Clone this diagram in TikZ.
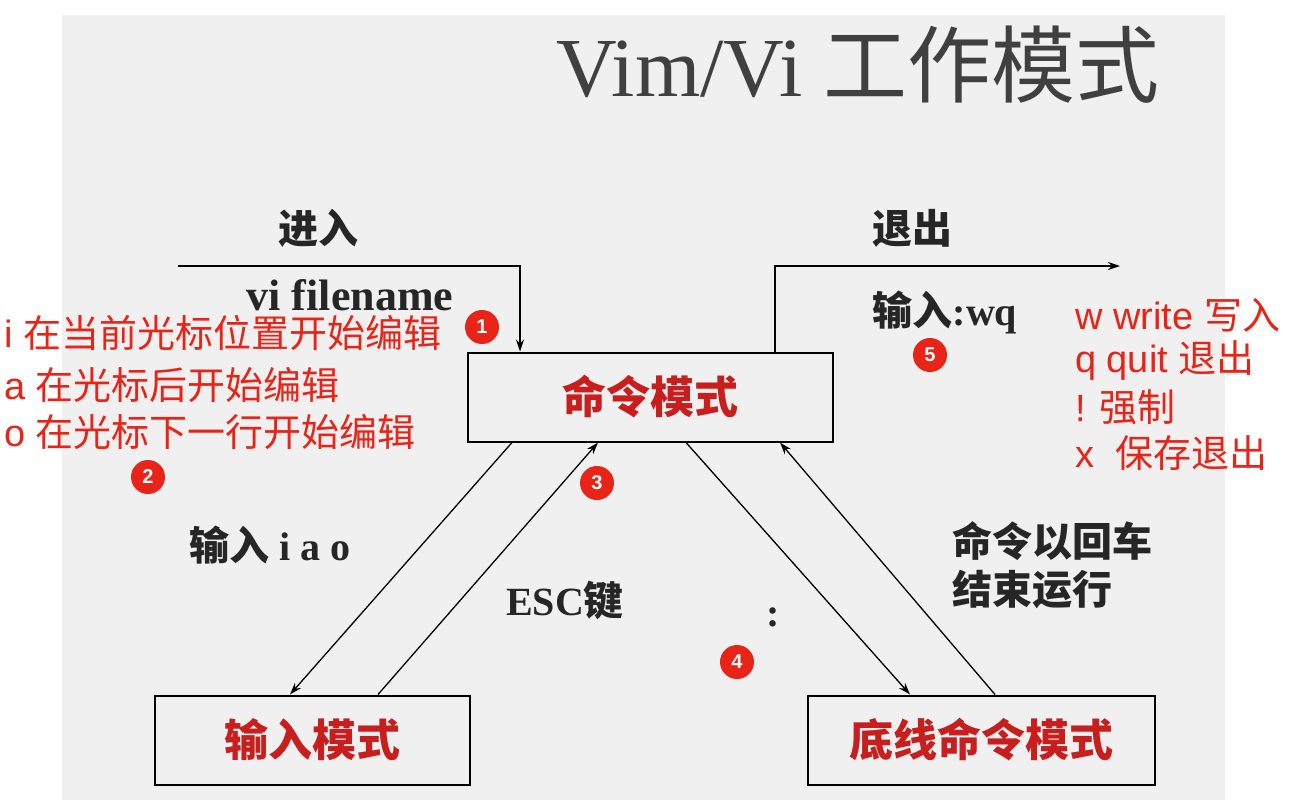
\documentclass[tikz,border=0pt]{standalone}
\usepackage{fontspec}
\setmainfont{Liberation Serif}
\setsansfont{Liberation Sans}
\newfontfamily\cjk{Noto Sans CJK SC}
\usetikzlibrary{positioning,arrows.meta}
\tikzset{>={Stealth[length=12pt,width=8pt]}}
\colorlet{background}{black!6}
\definecolor{penRed}{RGB}{232,36,24}
\definecolor{boxRed}{RGB}{200,30,30}
\colorlet{penColor}{black!85}
\tikzset{
  modebox/.style={draw=black, line width=2pt, minimum height=89pt, text=boxRed, font=\cjk\bfseries\fontsize{44}{46}\selectfont},
  note/.style={anchor=west, text=penRed, font=\sffamily\fontsize{38}{40}\selectfont, inner sep=0pt},
  lbl/.style={text=penColor, font=\fontsize{40}{44}\selectfont\bfseries},
  badge/.style={circle, fill=penRed, text=white, minimum size=34pt, inner sep=0pt, font=\sffamily\bfseries\fontsize{20}{20}\selectfont},
  link/.style={->, line width=1.3pt}
}
\begin{document}
\begin{tikzpicture}[x=1pt,y=-1pt]
  \useasboundingbox (0,0) rectangle (1303,804);
  \fill[background] (62,15) rectangle (1225,800);
  \node[text=black!75, font=\fontsize{84}{90}\selectfont] (title) at (858,65) {Vim/Vi {\cjk 工作模式}};
  % the three modes
  \node[modebox, minimum width=365pt] (cmd) at (650,397) {命令模式};
  \node[modebox, minimum width=315pt] (ins) at (312,740) {输入模式};
  \node[modebox, minimum width=347pt] (last) at (981,740) {底线命令模式};
  % enter / exit
  \coordinate (inStart) at (178,266);
  \coordinate (inCorner) at (520,266);
  \draw[link] (inStart) -- (inCorner) -- (inCorner |- cmd.north);
  \coordinate (outCorner) at (775,266);
  \coordinate (outEnd) at (1120,266);
  \draw[link] (outCorner |- cmd.north) -- (outCorner) -- (outEnd);
  \node[lbl, font=\cjk\bfseries\fontsize{40}{44}\selectfont] (enter) at (318,228) {进入};
  \node[lbl, font=\bfseries\fontsize{44}{44}\selectfont] (vifile) at (350,295) {vi filename};
  \node[lbl, font=\cjk\bfseries\fontsize{40}{44}\selectfont] (quit) at (912,228) {退出};
  \node[lbl] (wq) at (945,312) {{\cjk 输入}:wq};
  % transitions
  \draw[link] (cmd.south -| 512,0) -- (ins.north -| 290,0);
  \draw[link] (ins.north -| 378,0) -- (cmd.south -| 598,0);
  \draw[link] (cmd.south -| 686,0) -- (last.north -| 910,0);
  \draw[link] (last.north -| 995,0) -- (cmd.south -| 780,0);
  \node[lbl] (iao) at (270,545) {{\cjk 输入} i a o};
  \node[lbl] (esc) at (565,600) {ESC{\cjk 键}};
  \node[lbl] (colon) at (773,617) {:};
  \node[lbl, font=\cjk\bfseries\fontsize{40}{48}\selectfont, align=left] (run) at (1052,565) {命令以回车\\结束运行};
  % notes
  \node[note] (nI) at (4,333) {i {\cjk 在当前光标位置开始编辑}};
  \node[note] (nA) at (4,385) {a {\cjk 在光标后开始编辑}};
  \node[note] (nO) at (4,432) {o {\cjk 在光标下一行开始编辑}};
  \node[note] (nW) at (1075,315) {w write {\cjk 写入}};
  \node[note] (nQ) at (1075,360) {q quit {\cjk 退出}};
  \node[note] (nF) at (1075,407) {! {\cjk 强制}};
  \node[note] (nX) at (1075,453) {x\ \ {\cjk 保存退出}};
  \node[badge] (b1) at (482,327) {1};
  \node[badge] (b2) at (148,477) {2};
  \node[badge] (b3) at (597,483) {3};
  \node[badge] (b4) at (737,662) {4};
  \node[badge] (b5) at (930,355) {5};
\end{tikzpicture}
\end{document}
